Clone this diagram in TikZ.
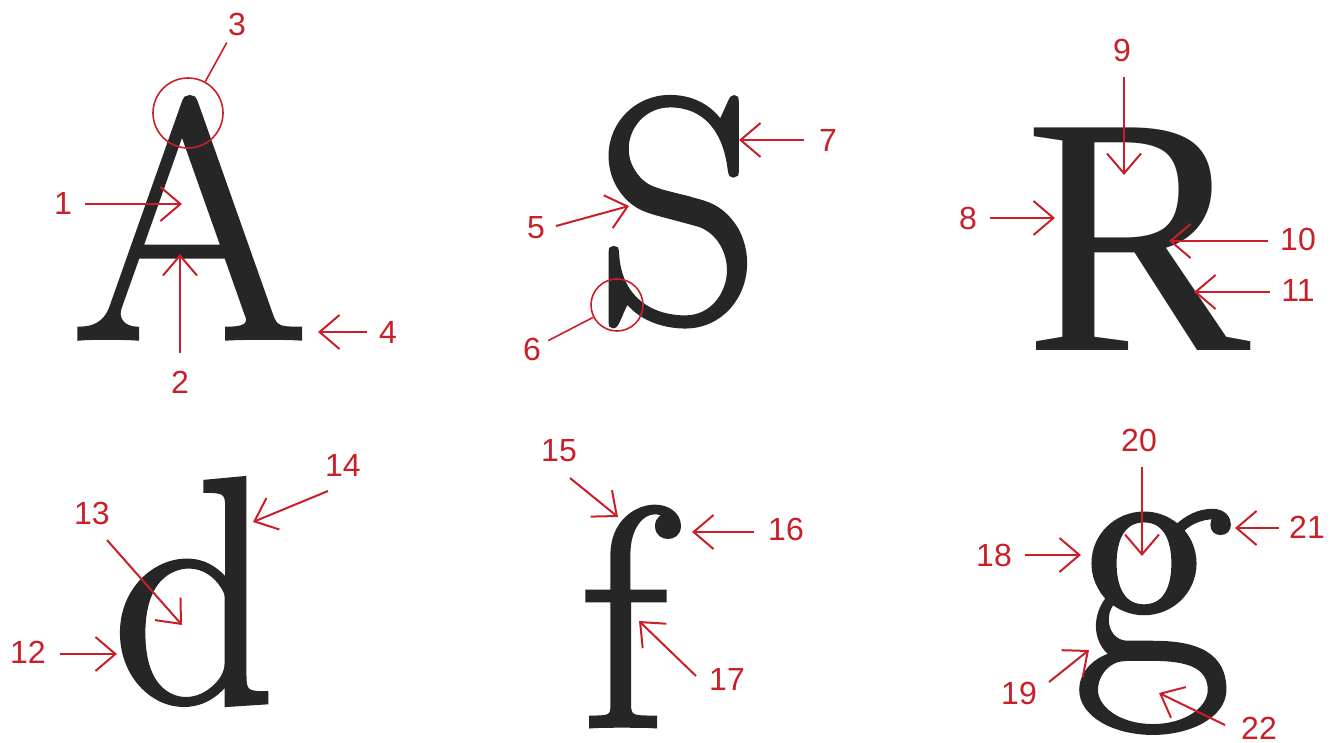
\documentclass[tikz,border=0pt]{standalone}
\usepackage{fontspec}
\newfontfamily\glyphfont{Latin Modern Roman}[FakeBold=1.5]
\newfontfamily\rfont{Liberation Serif}
\newfontfamily\labfont{Liberation Sans}
\usetikzlibrary{arrows.meta}
\definecolor{myred}{RGB}{202,30,40}
\definecolor{inkgray}{RGB}{38,38,38}
\begin{document}
\begin{tikzpicture}[x=1pt,y=-1pt,
  glyph/.style={inner sep=0pt, anchor=base, text=inkgray, font=\glyphfont\fontsize{#1}{#1}\selectfont},
  glyph/.default=340,
  lbl/.style={inner sep=0pt, text=myred, font=\labfont\fontsize{32}{32}\selectfont},
  arr/.style={draw=myred, line width=2pt, -{Straight Barb[length=20pt,width=34pt]}},
  ring/.style={draw=myred, line width=1.6pt, circle, inner sep=0pt},
  lead/.style={draw=myred, line width=1.6pt}]
\useasboundingbox (0,0) rectangle (1338,742);

% letters
\node[glyph] (gA) at (190,338) {A};
\node[glyph=320] (gS) at (678,321) {S};
\node[glyph, font=\rfont\fontsize{340}{340}\selectfont] (gR) at (1138,350) {R};
\node[glyph=322] (gd) at (194,702) {d};
\node[glyph=312] (gf) at (624,726) {f};
\node[glyph] (gg) at (1153,663) {g};

% labels
\node[lbl] (l1) at (63,203) {1};
\node[lbl] (l2) at (180,382) {2};
\node[lbl] (l3) at (237,24) {3};
\node[lbl] (l4) at (388,332) {4};
\node[lbl] (l5) at (536,228) {5};
\node[lbl] (l6) at (532,349) {6};
\node[lbl] (l7) at (828,140) {7};
\node[lbl] (l8) at (968,218) {8};
\node[lbl] (l9) at (1122,50) {9};
\node[lbl] (l10) at (1298,239) {10};
\node[lbl] (l11) at (1298,290) {11};
\node[lbl] (l12) at (28,652) {12};
\node[lbl] (l13) at (92,513) {13};
\node[lbl] (l14) at (343,465) {14};
\node[lbl] (l15) at (559,451) {15};
\node[lbl] (l16) at (786,529) {16};
\node[lbl] (l17) at (727,679) {17};
\node[lbl] (l18) at (994,555) {18};
\node[lbl] (l19) at (1019,693) {19};
\node[lbl] (l20) at (1139,440) {20};
\node[lbl] (l21) at (1307,527) {21};
\node[lbl] (l22) at (1259,728) {22};

% rings
\node[ring, minimum size=70pt] (c3) at (188,113) {};
\node[ring, minimum size=52pt] (c6) at (617,305) {};
\draw[lead, shorten <=8pt] (l3) -- (c3);
\draw[lead, shorten <=8pt] (l6) -- (c6);

% arrow ends
\coordinate (a1) at (85,204);   \coordinate (b1) at (182,204);
\coordinate (a2) at (180,353);  \coordinate (b2) at (180,254);
\coordinate (a4) at (367,332);  \coordinate (b4) at (318,332);
\coordinate (a5) at (556,226);  \coordinate (b5) at (629,206);
\coordinate (a7) at (804,140);  \coordinate (b7) at (739,140);
\coordinate (a8) at (990,218);  \coordinate (b8) at (1055,218);
\coordinate (a9) at (1124,77);  \coordinate (b9) at (1124,175);
\coordinate (a10) at (1268,241); \coordinate (b10) at (1169,241);
\coordinate (a11) at (1270,292); \coordinate (b11) at (1194,292);
\coordinate (a12) at (60,654);  \coordinate (b12) at (117,654);
\coordinate (a13) at (107,540); \coordinate (b13) at (182,625);
\coordinate (a14) at (328,491); \coordinate (b14) at (253,522);
\coordinate (a15) at (570,478); \coordinate (b15) at (618,517);
\coordinate (a16) at (754,532); \coordinate (b16) at (692,532);
\coordinate (a17) at (696,676); \coordinate (b17) at (639,621);
\coordinate (a18) at (1025,555); \coordinate (b18) at (1081,555);
\coordinate (a19) at (1049,682); \coordinate (b19) at (1089,650);
\coordinate (a20) at (1142,467); \coordinate (b20) at (1142,556);
\coordinate (a21) at (1279,528); \coordinate (b21) at (1235,528);
\coordinate (a22) at (1225,725); \coordinate (b22) at (1159,693);

\foreach \i in {1,2,4,5,7,8,9,10,11,12,13,14,15,16,17,18,19,20,21,22}
  \draw[arr] (a\i) -- (b\i);
\end{tikzpicture}
\end{document}
